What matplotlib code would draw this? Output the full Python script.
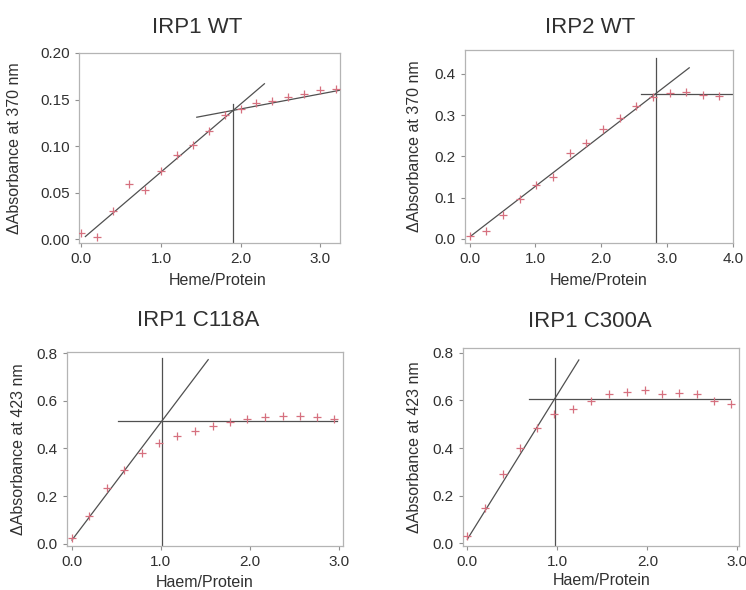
import numpy as np
import matplotlib
matplotlib.use("Agg")
import matplotlib.pyplot as plt
from matplotlib.ticker import FormatStrFormatter

plt.rcParams['font.family'] = ['Liberation Sans', 'DejaVu Sans']

# titration data
titles = ['IRP1 WT', 'IRP2 WT', 'IRP1 C118A', 'IRP1 C300A']
xlabels = ['Heme/Protein', 'Heme/Protein', 'Haem/Protein', 'Haem/Protein']
ylabels = ['\u0394Absorbance at 370 nm', '\u0394Absorbance at 370 nm',
           '\u0394Absorbance at 423 nm', '\u0394Absorbance at 423 nm']

x_irp1 = [0.0, 0.2, 0.4, 0.6, 0.8, 1.0, 1.2, 1.4, 1.6, 1.8, 2.0, 2.2, 2.4, 2.6, 2.8, 3.0, 3.2]
y_irp1 = [0.007, 0.002, 0.030, 0.059, 0.053, 0.073, 0.091, 0.101, 0.116, 0.133,
          0.140, 0.146, 0.148, 0.153, 0.156, 0.160, 0.161]

x_irp2 = [0.0, 0.25, 0.50, 0.76, 1.01, 1.26, 1.52, 1.77, 2.03, 2.28, 2.53, 2.79,
          3.04, 3.29, 3.54, 3.79]
y_irp2 = [0.008, 0.019, 0.057, 0.097, 0.130, 0.150, 0.208, 0.232, 0.267, 0.293,
          0.321, 0.345, 0.353, 0.355, 0.349, 0.347]

x_c118 = [0.0, 0.20, 0.40, 0.59, 0.79, 0.98, 1.18, 1.38, 1.58, 1.77, 1.97, 2.17,
          2.37, 2.56, 2.75, 2.94]
y_c118 = [0.022, 0.118, 0.233, 0.311, 0.380, 0.425, 0.453, 0.475, 0.493, 0.511,
          0.525, 0.531, 0.537, 0.538, 0.531, 0.524]

x_c300 = [0.0, 0.20, 0.40, 0.59, 0.78, 0.97, 1.18, 1.38, 1.57, 1.77, 1.97, 2.16,
          2.35, 2.55, 2.74, 2.93]
y_c300 = [0.032, 0.150, 0.291, 0.401, 0.483, 0.541, 0.562, 0.597, 0.625, 0.634,
          0.643, 0.625, 0.632, 0.625, 0.599, 0.585]

# fitted lines: (slope, intercept, x start, x end)
rise_fits = [(0.0729, -0.0007, 0.05, 2.30), (0.123, 0.0046, 0.02, 3.335),
             (0.497, 0.013, 0.004, 1.53), (0.608, 0.0156, 0.004, 1.24)]
plat_fits = [(0.0161, 0.1077, 1.45, 3.25), (0.0, 0.352, 2.61, 3.98),
             (0.0, 0.517, 0.52, 2.97), (0.0, 0.606, 0.686, 2.92)]
vline_top = [0.145, 0.438, 0.779, 0.779]

xs = [x_irp1, x_irp2, x_c118, x_c300]
ys = [y_irp1, y_irp2, y_c118, y_c300]

xlims = [(-0.03, 3.25), (-0.07, 4.0), (-0.055, 3.04), (-0.045, 3.02)]
ylims = [(-0.004, 0.20), (-0.01, 0.458), (-0.01, 0.807), (-0.011, 0.821)]
xticks = [[0, 1, 2, 3], [0, 1, 2, 3, 4], [0, 1, 2, 3], [0, 1, 2, 3]]
yticks = [[0, 0.05, 0.10, 0.15, 0.20], [0, 0.1, 0.2, 0.3, 0.4],
          [0, 0.2, 0.4, 0.6, 0.8], [0, 0.2, 0.4, 0.6, 0.8]]
yfmt = ['%.2f', '%.1f', '%.1f', '%.1f']

# axes boxes in pixels (left, top, right, bottom) for a 746x590 figure
W, H = 746, 590
boxes = [(79, 53, 340, 243), (465, 50, 733, 243),
         (66.7, 351.7, 343, 546), (463, 347.7, 739.3, 546)]
title_x = [0.452, 0.466, 0.475, 0.461]
title_pad = [14.4, 12.5, 18.7, 15]
ylab_x = [-0.22, -0.16, -0.147, -0.149]
xlab_y = [-0.158, -0.155, -0.15, -0.136]
xlab_x = [0.53, 0.5, 0.5, 0.5]

txt = '#303030'
spine_c = '#b4b4b4'
mark_c = '#d6707f'
line_c = '#505050'

fig = plt.figure(figsize=(W / 100, H / 100), dpi=100)

for i in range(4):
    l, t, r, b = boxes[i]
    ax = fig.add_axes([l / W, 1 - b / H, (r - l) / W, (b - t) / H])

    ax.plot(xs[i], ys[i], linestyle='none', marker='+', markersize=6,
            markeredgewidth=0.9, color=mark_c, zorder=3)

    s1, c1, a1, b1 = rise_fits[i]
    s2, c2, a2, b2 = plat_fits[i]
    xr = np.array([a1, b1])
    ax.plot(xr, s1 * xr + c1, color=line_c, lw=0.9, zorder=2)
    xp = np.array([a2, b2])
    ax.plot(xp, s2 * xp + c2, color=line_c, lw=0.9, zorder=2)

    # break point = intersection of both fits
    xb = (c2 - c1) / (s1 - s2)
    ax.plot([xb, xb], [ylims[i][0], vline_top[i]], color=line_c, lw=0.9, zorder=2)

    ax.set_xlim(*xlims[i])
    ax.set_ylim(*ylims[i])
    ax.set_xticks(xticks[i])
    ax.set_yticks(yticks[i])
    ax.xaxis.set_major_formatter(FormatStrFormatter('%.1f'))
    ax.yaxis.set_major_formatter(FormatStrFormatter(yfmt[i]))

    for sp in ax.spines.values():
        sp.set_color(spine_c)
        sp.set_linewidth(0.9)
    ax.tick_params(direction='out', length=3.2, width=0.8, color='#909090',
                   labelsize=11, labelcolor=txt, pad=3.5)

    ax.set_title(titles[i], fontsize=16, color=txt, x=title_x[i], pad=title_pad[i])
    ax.set_xlabel(xlabels[i], fontsize=11.5, color=txt, va='top')
    ax.set_ylabel(ylabels[i], fontsize=11.5, color=txt)
    ax.xaxis.set_label_coords(xlab_x[i], xlab_y[i])
    ax.yaxis.set_label_coords(ylab_x[i], 0.5)

fig.savefig('out.png', dpi=100)
